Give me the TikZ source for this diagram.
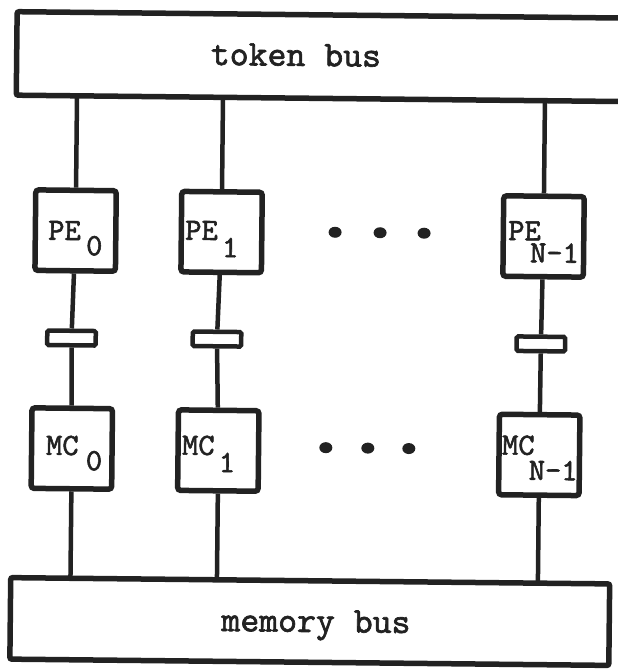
\documentclass[tikz,border=0pt]{standalone}
\pgfdeclarelayer{paper}
\pgfdeclarelayer{wires}
\pgfsetlayers{paper,wires,main}
\definecolor{ink}{RGB}{34,34,34}
% typewriter faces, slightly emboldened
\font\busface="[lmmono10-regular]:embolden=1.8" at 36pt
\font\boxface="[lmmono10-regular]:embolden=1.8" at 31pt
\tikzset{
  bus/.style={draw=ink, fill=white, line width=5.5pt, rounded corners=2pt, inner sep=0pt},
  unit/.style={draw=ink, fill=white, line width=5.5pt, rounded corners=3pt,
               minimum width=80.5pt, minimum height=80.5pt, inner sep=0pt},
  latch/.style={draw=ink, fill=white, line width=4.5pt, rounded corners=1.5pt,
                minimum width=48.5pt, minimum height=14.5pt, inner sep=0pt},
  wire/.style={draw=ink, line width=4.5pt},
  boxlbl/.style={font=\boxface, text=ink, inner sep=0pt, anchor=base west},
  buslbl/.style={font=\busface, text=ink, inner sep=0pt, anchor=base},
}
\begin{document}
\begin{tikzpicture}[x=1pt, y=-1pt]
\useasboundingbox (0,0) rectangle (618,672);
\begin{pgfonlayer}{paper}
  \fill[white] (0,0) rectangle (618,672);
\end{pgfonlayer}
\clip (0,0) rectangle (618,672);
\begin{scope}[rotate around={-0.6:(309,336)}, transform shape]
  % buses
  \node[bus, minimum width=623.5pt, minimum height=83.5pt] (tb) at (325.5,56.5) {};
  \node[bus, minimum width=599pt, minimum height=81.5pt] (mb) at (312.75,621.5) {};
  \node[buslbl] (tbtxt) at (293,66) {token bus};
  \node[buslbl] (mbtxt) at (319,632) {memory bus};

  % processing elements
  \node[unit] (pe0) at (74.5,233) {};
  \node[unit] (pe1) at (220.5,233) {};
  \node[unit] (pe2) at (542.5,234) {};
  % latches between PE and MC
  \node[latch] (sw0) at (71.5,340.5) {};
  \node[latch] (sw1) at (217,340) {};
  \node[latch] (sw2) at (541,341.5) {};
  % memory controllers
  \node[unit] (mc0) at (73,451) {};
  \node[unit] (mc1) at (219.5,451.5) {};
  \node[unit] (mc2) at (540.5,452.5) {};

  % labels
  \node[boxlbl] (pe0a) at (47,242.5) {PE};
  \node[boxlbl] (pe0b) at (85,257.5) {0};
  \node[boxlbl] (pe1a) at (184,241) {PE};
  \node[boxlbl] (pe1b) at (221,258) {1};
  \node[boxlbl] (pe2a) at (507,238) {PE};
  \node[boxlbl] (pe2b) at (529,260) {N-1};
  \node[boxlbl] (mc0a) at (47,457.5) {MC};
  \node[boxlbl] (mc0b) at (87,472.5) {0};
  \node[boxlbl] (mc1a) at (183,456) {MC};
  \node[boxlbl] (mc1b) at (220,473) {1};
  \node[boxlbl] (mc2a) at (503,452.5) {MC};
  \node[boxlbl] (mc2b) at (530,477.5) {N-1};

  % ellipsis dots
  \foreach \x in {334,379,423} \fill[ink] (\x,232) ellipse (6.5pt and 5.5pt);
  \foreach \x in {327,369,410} \fill[ink] (\x,447.5) ellipse (6.5pt and 5.5pt);

  % connections
  \begin{pgfonlayer}{wires}
    \foreach \i in {0,1,2} {
      \draw[wire] (pe\i) -- (pe\i |- tb);
      \draw[wire] (pe\i) -- (sw\i);
      \draw[wire] (sw\i) -- (mc\i);
      \draw[wire] (mc\i) -- (mc\i |- mb);
    }
  \end{pgfonlayer}
\end{scope}
\end{tikzpicture}
\end{document}
